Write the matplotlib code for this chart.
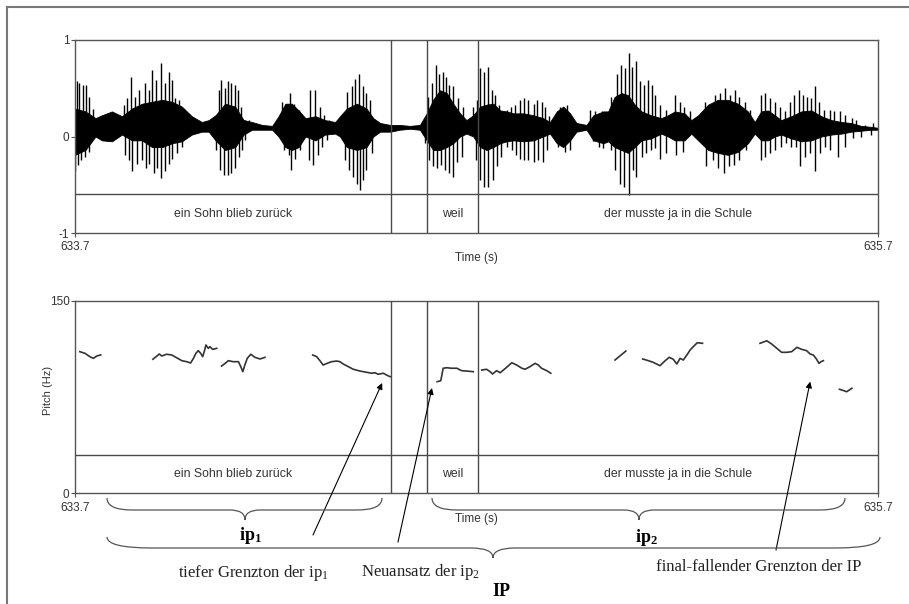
import numpy as np
import matplotlib
matplotlib.use("Agg")
import matplotlib.pyplot as plt
from matplotlib.path import Path
from matplotlib.patches import PathPatch
from matplotlib.transforms import Affine2D
from matplotlib.lines import Line2D

plt.rcParams['font.family'] = ['Liberation Sans', 'DejaVu Sans']
plt.rcParams['mathtext.default'] = 'regular'
plt.rcParams['axes.unicode_minus'] = False

# time axis (s)
T0, T1 = 633.7, 635.7
word_start = [633.7, 634.577, 634.703]
word_end = [634.487, 634.703, 635.7]
words = ['ein Sohn blieb zurück', 'weil', 'der musste ja in die Schule']
bounds = [634.487, 634.577, 634.703]

# waveform: dense core envelope (ms after 633.7 s, amplitude)
core_ms = [0, 26, 51, 67, 92, 117, 142, 167, 192, 217, 242, 266, 291, 316, 333, 350, 374, 399, 420, 441,
           466, 491, 507, 524, 540, 557, 574, 599, 623, 648,
           660, 677, 702, 726, 743, 760, 785, 809, 834, 859, 876, 892, 909, 926, 942, 959, 975, 992, 1009, 1025,
           1042, 1059, 1075, 1092, 1117, 1142, 1166, 1183, 1200, 1216, 1233, 1249, 1274, 1291, 1316,
           1328, 1344, 1361, 1377, 1394, 1411, 1435, 1460, 1477, 1494, 1518, 1535, 1552, 1577, 1601, 1626, 1651,
           1676, 1693, 1709, 1726, 1743, 1759, 1784, 1809, 1834, 1859, 1884, 1909, 1933, 1958, 1983, 2000]
core_hi = [0.29, 0.26, 0.19, 0.22, 0.26, 0.21, 0.29, 0.34, 0.36, 0.38, 0.36, 0.31, 0.21, 0.15, 0.17, 0.22, 0.34, 0.31, 0.17, 0.15,
           0.12, 0.11, 0.21, 0.34, 0.34, 0.27, 0.19, 0.21, 0.17, 0.15,
           0.21, 0.29, 0.34, 0.29, 0.19, 0.14, 0.12, 0.12, 0.11, 0.12, 0.24, 0.38, 0.48, 0.45, 0.34, 0.24, 0.17, 0.22, 0.31, 0.33,
           0.34, 0.27, 0.26, 0.24, 0.24, 0.22, 0.19, 0.15, 0.26, 0.31, 0.24, 0.14, 0.12, 0.22, 0.26,
           0.26, 0.41, 0.45, 0.43, 0.33, 0.26, 0.22, 0.19, 0.22, 0.26, 0.24, 0.17, 0.22, 0.33, 0.38, 0.38, 0.34,
           0.26, 0.15, 0.26, 0.27, 0.22, 0.17, 0.21, 0.26, 0.27, 0.21, 0.17, 0.15, 0.14, 0.11, 0.10, 0.09]
core_lo = [-0.19, -0.14, 0.00, -0.04, -0.05, 0.02, -0.04, -0.04, -0.11, -0.11, -0.07, -0.05, 0.02, 0.05, 0.05, -0.04, -0.14, -0.11, 0.02, 0.07,
           0.07, 0.07, 0.00, -0.11, -0.14, -0.11, 0.00, -0.04, 0.02, 0.03,
           0.00, -0.11, -0.14, -0.11, 0.00, 0.05, 0.05, 0.07, 0.08, 0.07, -0.04, -0.14, -0.14, -0.11, -0.07, 0.00, 0.03, 0.00, -0.11, -0.14,
           -0.11, -0.07, -0.05, -0.04, -0.05, -0.04, 0.00, 0.03, -0.07, -0.11, -0.04, 0.05, 0.07, -0.04, -0.07,
           -0.05, -0.11, -0.14, -0.17, -0.11, -0.04, -0.02, 0.03, 0.00, -0.04, -0.04, 0.03, -0.04, -0.14, -0.17, -0.19, -0.16,
           -0.07, 0.03, -0.04, -0.04, 0.00, 0.02, -0.02, -0.05, -0.04, 0.00, 0.02, 0.03, 0.05, 0.06, 0.07, 0.07]

# waveform: individual peaks
wave_center = 0.09
upper_ms = [5, 11, 19, 27, 36, 44, 121, 130, 140, 150, 159, 167, 175, 185, 193, 202, 213, 223, 233, 242, 250, 258, 271, 279,
            349, 358, 364, 373, 381, 389, 398, 406, 414, 424, 433, 516, 528, 536, 545, 557, 586, 599, 609, 619, 632,
            677, 689, 697, 708, 718, 726, 735, 880, 888, 899, 907, 916, 924, 932, 942, 955, 967, 992, 1000, 1009, 1019,
            1029, 1038, 1046, 1057, 1075, 1085, 1096, 1108, 1118, 1129, 1142, 1151, 1162, 1171, 1181, 1208, 1225,
            1283, 1295, 1312, 1324,
            1336, 1351, 1361, 1369, 1379, 1387, 1398, 1408, 1417, 1427, 1437, 1445, 1456, 1473, 1494, 1506, 1518, 1531,
            1568, 1593, 1606, 1618, 1631, 1643, 1655, 1668, 1680, 1709, 1719, 1730, 1743, 1755, 1768, 1780, 1792, 1803,
            1813, 1824, 1832, 1842, 1852, 1865, 1880, 1890, 1905, 1917, 1934, 1946, 1967, 1988]
upper_amp = [0.57, 0.55, 0.53, 0.53, 0.41, 0.29, 0.33, 0.40, 0.62, 0.41, 0.48, 0.34, 0.55, 0.48, 0.69, 0.59, 0.76, 0.55, 0.67, 0.59,
             0.40, 0.38, 0.29, 0.22, 0.21, 0.48, 0.59, 0.50, 0.57, 0.55, 0.53, 0.48, 0.31, 0.17, 0.17, 0.36, 0.34, 0.45, 0.34, 0.27,
             0.48, 0.48, 0.31, 0.22, 0.17,
             0.46, 0.52, 0.60, 0.65, 0.52, 0.45, 0.38, 0.41, 0.55, 0.74, 0.65, 0.67, 0.62, 0.53, 0.52, 0.40, 0.31, 0.31, 0.38, 0.71,
             0.67, 0.72, 0.48, 0.43, 0.33, 0.27, 0.31, 0.33, 0.38, 0.40, 0.38, 0.34, 0.38, 0.36, 0.31, 0.21, 0.31, 0.33, 0.27, 0.26,
             0.26, 0.24,
             0.41, 0.65, 0.74, 0.71, 0.87, 0.72, 0.78, 0.57, 0.53, 0.59, 0.53, 0.43, 0.33, 0.27, 0.43, 0.36, 0.31, 0.26, 0.36, 0.43,
             0.45, 0.50, 0.43, 0.48, 0.41, 0.36, 0.27, 0.43, 0.45, 0.40, 0.36, 0.31, 0.26, 0.36, 0.43, 0.48, 0.43, 0.41, 0.40, 0.52,
             0.36, 0.27, 0.27, 0.26, 0.26, 0.22, 0.19, 0.17, 0.12, 0.14]
lower_ms = [0, 7, 16, 26, 34, 124, 134, 142, 154, 167, 177, 185, 196, 204, 213, 223, 233, 242, 254, 267, 351, 360, 370, 380,
            389, 399, 408, 416, 424, 520, 532, 538, 549, 561, 584, 594, 605, 615, 628,
            672, 683, 693, 702, 710, 718, 726, 739, 872, 882, 892, 902, 911, 921, 931, 942, 952, 963, 999, 1009, 1019, 1029,
            1040, 1050, 1060, 1075, 1088, 1098, 1108, 1118, 1129, 1142, 1154, 1165, 1175, 1204, 1220, 1233, 1291, 1306, 1316,
            1336, 1346, 1357, 1367, 1379, 1390, 1398, 1411, 1423, 1434, 1444, 1456, 1473, 1498, 1514, 1572, 1589, 1601, 1616,
            1628, 1641, 1655, 1672, 1708, 1718, 1730, 1743, 1759, 1772, 1784, 1797, 1805, 1817, 1830, 1842, 1855, 1867, 1880,
            1900, 1917, 1938, 1958, 1983]
lower_amp = [-0.36, -0.30, -0.24, -0.21, -0.16, -0.19, -0.24, -0.36, -0.28, -0.24, -0.33, -0.28, -0.38, -0.33, -0.43, -0.36, -0.28,
             -0.23, -0.17, -0.11, -0.14, -0.35, -0.40, -0.40, -0.38, -0.33, -0.21, -0.14, -0.04, -0.14, -0.19, -0.35, -0.23, -0.14,
             -0.24, -0.30, -0.19, -0.11, -0.04,
             -0.24, -0.35, -0.42, -0.49, -0.55, -0.45, -0.35, -0.17, -0.07, -0.24, -0.31, -0.33, -0.30, -0.35, -0.38, -0.42, -0.26,
             -0.21, -0.24, -0.45, -0.52, -0.52, -0.45, -0.31, -0.21, -0.11, -0.14, -0.19, -0.23, -0.24, -0.24, -0.26, -0.24, -0.26,
             -0.14, -0.11, -0.16, -0.14, -0.05, -0.11, -0.12,
             -0.14, -0.35, -0.49, -0.52, -0.61, -0.35, -0.42, -0.21, -0.17, -0.14, -0.12, -0.23, -0.17, -0.19, -0.16, -0.31, -0.24,
             -0.33, -0.38, -0.31, -0.30, -0.24, -0.14, -0.24, -0.21, -0.17, -0.14, -0.11, -0.07, -0.11, -0.11, -0.31, -0.21, -0.17,
             -0.36, -0.17, -0.11, -0.14, -0.21, -0.11, -0.02, 0.00, 0.02]

# pitch track segments (s, Hz)
pitch_t = [
    [633.712, 633.725, 633.737, 633.746, 633.754, 633.764],
    [633.894, 633.902, 633.910, 633.916, 633.928, 633.941, 633.953, 633.966, 633.978, 633.988, 633.995, 634.001,
     634.007, 634.013, 634.018, 634.023, 634.026, 634.032, 634.036, 634.043, 634.053],
    [634.065, 634.074, 634.082, 634.094, 634.107, 634.113, 634.118, 634.123, 634.129, 634.138, 634.148, 634.161, 634.173],
    [634.292, 634.302, 634.310, 634.318, 634.328, 634.339, 634.352, 634.360, 634.368, 634.381, 634.393, 634.410,
     634.427, 634.439, 634.447, 634.455, 634.468, 634.476, 634.485],
    [634.602, 634.611, 634.617, 634.626, 634.638, 634.651, 634.663, 634.676, 634.692],
    [634.713, 634.725, 634.734, 634.740, 634.750, 634.759, 634.767, 634.775, 634.788, 634.800, 634.813, 634.821,
     634.833, 634.846, 634.854, 634.862, 634.875, 634.885],
    [635.045, 635.055, 635.072],
    [635.114, 635.128, 635.140, 635.157, 635.170, 635.180, 635.190, 635.199, 635.207, 635.215, 635.224, 635.232,
     635.240, 635.250, 635.263],
    [635.406, 635.423, 635.435, 635.448, 635.460, 635.473, 635.485, 635.498, 635.510, 635.522, 635.531, 635.539,
     635.547, 635.553, 635.558, 635.564],
    [635.604, 635.615, 635.622, 635.635],
]
pitch_hz = [
    [110.3, 109.0, 106.4, 105.1, 106.9, 107.8],
    [104.4, 106.4, 108.5, 106.9, 108.3, 107.7, 105.6, 103.3, 102.5, 101.5, 105.1, 109.0, 111.1, 109.0, 106.4, 111.6,
     115.5, 112.9, 114.2, 112.1, 112.9],
    [99.1, 101.2, 103.3, 102.5, 102.5, 98.6, 94.7, 99.9, 105.1, 108.3, 105.9, 104.6, 105.9],
    [107.7, 106.4, 103.3, 99.9, 101.2, 102.5, 103.0, 102.5, 100.7, 98.6, 96.6, 95.2, 94.2, 93.5, 93.9, 92.7, 93.5, 92.1, 90.8],
    [86.9, 87.7, 97.4, 97.8, 97.4, 97.4, 95.5, 95.2, 94.7],
    [96.0, 96.6, 94.7, 92.9, 95.5, 93.9, 96.0, 98.1, 101.7, 99.9, 97.4, 96.6, 98.6, 101.2, 99.9, 97.4, 95.5, 93.5],
    [103.8, 106.4, 110.8],
    [104.6, 103.3, 102.0, 99.4, 103.3, 105.9, 104.4, 100.7, 105.1, 103.8, 107.7, 111.6, 114.2, 117.3, 116.8],
    [116.8, 118.8, 116.3, 112.9, 109.8, 109.8, 110.3, 113.7, 112.1, 111.1, 108.5, 107.7, 104.4, 101.2, 102.5, 103.3],
    [81.0, 79.9, 79.1, 81.8],
]

# arrow targets on the pitch panel (s, Hz)
arrow_t = [634.465, 634.589, 635.531]
arrow_hz = [85.9, 82.0, 87.0]

W, H = 909, 604
fig = plt.figure(figsize=(W / 100, H / 100), dpi=100)
fig.patch.set_facecolor('white')
# pixel coordinates, origin at top left
px = Affine2D().scale(1 / W, -1 / H).translate(0, 1) + fig.transFigure

ax1 = fig.add_axes([75 / W, 1 - 233 / H, 803 / W, 193 / H])
ax2 = fig.add_axes([75 / W, 1 - 493.3 / H, 803 / W, 192.6 / H])

GRID = '#4a4a4a'


def style_axes(ax, ylim, yticks, tier_y):
    ax.set_xlim(T0, T1)
    ax.set_ylim(*ylim)
    for s in ax.spines.values():
        s.set_color('#555555')
        s.set_linewidth(1.0)
    ax.set_xticks([T0, T1])
    ax.set_xticklabels(['633.7', '635.7'])
    ax.set_yticks(yticks)
    ax.tick_params(length=3, width=0.8, color='#555555', labelsize=8.5, labelcolor='#333333')
    ax.tick_params(axis='x', pad=3)
    ax.tick_params(axis='y', pad=1)
    for b in bounds:
        ax.axvline(b, color=GRID, lw=1.0, zorder=3)
    ax.axhline(tier_y, color=GRID, lw=1.0, zorder=3)
    label_y = (ylim[0] + tier_y) / 2
    for s, e, w in zip(word_start, word_end, words):
        ax.text((s + e) / 2, label_y, w, ha='center', va='center', fontsize=8.8, color='#333333')
    ax.set_xlabel('Time (s)', fontsize=8.5, color='#333333')
    ax.xaxis.set_label_coords(0.5, -0.1)


# waveform panel
style_axes(ax1, (-1, 1), [-1, 0, 1], -0.6)
core_t = T0 + np.array(core_ms) / 1000
ax1.fill_between(core_t, core_lo, core_hi, color='black', lw=0.6, edgecolor='black')
ax1.vlines(T0 + np.array(upper_ms) / 1000, wave_center, upper_amp, color='black', lw=1.0)
ax1.vlines(T0 + np.array(lower_ms) / 1000, wave_center, lower_amp, color='black', lw=1.0)

# pitch panel
style_axes(ax2, (0, 150), [0, 150], 30)
for t, hz in zip(pitch_t, pitch_hz):
    ax2.plot(t, hz, color='#333333', lw=1.2)
ax2.set_ylabel('Pitch (Hz)', fontsize=8, color='#333333')
ax2.yaxis.set_label_coords(-0.027, 0.535)

# arrows from the explanatory texts
tails = [(313, 535), (398, 542), (776, 550)]
for t, hz, tail in zip(arrow_t, arrow_hz, tails):
    ax2.annotate('', xy=(t, hz), xycoords='data', xytext=tail, textcoords=px,
                 arrowprops=dict(arrowstyle='-|>', lw=0.8, color='black', mutation_scale=9,
                                 shrinkA=0, shrinkB=0),
                 annotation_clip=False)


def brace(x0, x1, xc, ytop, ymid, ybot, r_end, r_mid):
    verts = [(x0, ytop), (x0, ymid), (x0 + r_end, ymid), (xc - r_mid, ymid), (xc, ymid), (xc, ybot),
             (xc, ymid), (xc + r_mid, ymid), (x1 - r_end, ymid), (x1, ymid), (x1, ytop)]
    codes = [Path.MOVETO, Path.CURVE3, Path.CURVE3, Path.LINETO, Path.CURVE3, Path.CURVE3,
             Path.CURVE3, Path.CURVE3, Path.LINETO, Path.CURVE3, Path.CURVE3]
    fig.add_artist(PathPatch(Path(verts, codes), fill=False, edgecolor='#555555', lw=0.9, transform=px))


brace(107, 382, 245, 498, 510, 520, 25, 15)
brace(432, 845, 639, 498, 510, 520, 25, 15)
brace(107, 880, 493, 537, 548, 558, 45, 22)

serif = ['Liberation Serif', 'DejaVu Serif']
fig.text(250, 535, 'ip$_1$', transform=px, ha='center', va='center', fontsize=13, fontweight='bold', family=serif)
fig.text(646, 537, 'ip$_2$', transform=px, ha='center', va='center', fontsize=13, fontweight='bold', family=serif)
fig.text(501, 592, 'IP', transform=px, ha='center', va='center', fontsize=13, fontweight='bold', family=serif)
fig.text(253, 573, 'tiefer Grenzton der ip$_1$', transform=px, ha='center', va='center', fontsize=12, family=serif,
         color='#222222')
fig.text(421, 572, 'Neuansatz der ip$_2$', transform=px, ha='center', va='center', fontsize=12, family=serif,
         color='#222222')
fig.text(759, 567, 'final-fallender Grenzton der IP', transform=px, ha='center', va='center', fontsize=12,
         family=serif, color='#222222')

# outer frame (left and top edges visible)
fig.add_artist(Line2D([7, 7], [7, H], transform=px, color='#777777', lw=1.5))
fig.add_artist(Line2D([7, W], [7, 7], transform=px, color='#777777', lw=1.5))

fig.savefig('out.png', dpi=100)
